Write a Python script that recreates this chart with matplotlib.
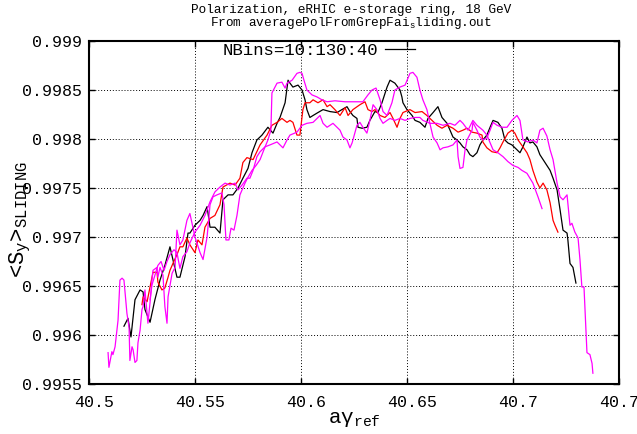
import matplotlib
matplotlib.use("Agg")
import matplotlib.pyplot as plt
from matplotlib.transforms import ScaledTranslation

plt.rcParams["font.family"] = ["Liberation Mono", "DejaVu Sans Mono"]
plt.rcParams["mathtext.fontset"] = "custom"
plt.rcParams["mathtext.rm"] = "Liberation Mono"
plt.rcParams["mathtext.it"] = "Liberation Mono:italic"
plt.rcParams["mathtext.bf"] = "Liberation Mono:bold"

# --- data ---
black_x = [40.5165, 40.5184, 40.5198, 40.5217, 40.5241, 40.5255, 40.5264, 40.5288, 40.5311, 40.5335,
           40.5358, 40.5382, 40.5415, 40.5429, 40.5453, 40.5467, 40.5476, 40.5500, 40.5524, 40.5538,
           40.5557, 40.5571, 40.5594, 40.5618, 40.5632, 40.5656, 40.5679, 40.5703, 40.5726, 40.5750,
           40.5769, 40.5792, 40.5816, 40.5844, 40.5868, 40.5887, 40.5901, 40.5925, 40.5939, 40.5948,
           40.5962, 40.5986, 40.6005, 40.6019, 40.6028, 40.6042, 40.6057, 40.6080, 40.6104, 40.6137,
           40.6170, 40.6193, 40.6217, 40.6231, 40.6245, 40.6264, 40.6269, 40.6288, 40.6311, 40.6325,
           40.6349, 40.6363, 40.6382, 40.6406, 40.6420, 40.6443, 40.6467, 40.6476, 40.6481, 40.6500,
           40.6524, 40.6538, 40.6561, 40.6585, 40.6599, 40.6623, 40.6646, 40.6665, 40.6689, 40.6703,
           40.6717, 40.6736, 40.6750, 40.6764, 40.6783, 40.6797, 40.6811, 40.6830, 40.6844, 40.6858,
           40.6877, 40.6892, 40.6906, 40.6929, 40.6948, 40.6962, 40.6976, 40.6995, 40.7019, 40.7033,
           40.7047, 40.7066, 40.7080, 40.7094, 40.7113, 40.7127, 40.7142, 40.7160, 40.7175, 40.7189,
           40.7208, 40.7222, 40.7236, 40.7255, 40.7259, 40.7269, 40.7283, 40.7297]
black_y = [0.99609, 0.99617, 0.99598, 0.99636, 0.99646, 0.99644, 0.99626, 0.99613, 0.99636, 0.99656,
           0.99671, 0.99690, 0.99659, 0.99659, 0.99680, 0.99704, 0.99704, 0.99712, 0.99717, 0.99722,
           0.99731, 0.99710, 0.99710, 0.99704, 0.99738, 0.99743, 0.99743, 0.99750, 0.99760, 0.99770,
           0.99786, 0.99799, 0.99804, 0.99812, 0.99806, 0.99816, 0.99822, 0.99837, 0.99860, 0.99857,
           0.99853, 0.99855, 0.99850, 0.99840, 0.99830, 0.99822, 0.99824, 0.99827, 0.99830, 0.99828,
           0.99827, 0.99830, 0.99833, 0.99828, 0.99824, 0.99821, 0.99812, 0.99811, 0.99812, 0.99819,
           0.99828, 0.99827, 0.99837, 0.99853, 0.99860, 0.99857, 0.99850, 0.99843, 0.99837, 0.99830,
           0.99824, 0.99819, 0.99817, 0.99812, 0.99821, 0.99827, 0.99833, 0.99822, 0.99816, 0.99809,
           0.99802, 0.99799, 0.99796, 0.99792, 0.99789, 0.99784, 0.99782, 0.99786, 0.99794, 0.99799,
           0.99804, 0.99812, 0.99819, 0.99817, 0.99811, 0.99799, 0.99796, 0.99794, 0.99789, 0.99786,
           0.99792, 0.99802, 0.99796, 0.99797, 0.99792, 0.99784, 0.99779, 0.99773, 0.99768, 0.99760,
           0.99748, 0.99728, 0.99707, 0.99704, 0.99697, 0.99673, 0.99669, 0.99653]

red_x = [40.5250, 40.5255, 40.5274, 40.5288, 40.5302, 40.5321, 40.5325, 40.5344, 40.5358, 40.5373,
         40.5382, 40.5396, 40.5415, 40.5429, 40.5443, 40.5462, 40.5476, 40.5500, 40.5514, 40.5533,
         40.5547, 40.5571, 40.5594, 40.5618, 40.5632, 40.5665, 40.5689, 40.5712, 40.5726, 40.5745,
         40.5774, 40.5807, 40.5840, 40.5863, 40.5887, 40.5910, 40.5934, 40.5948, 40.5962, 40.5981,
         40.5995, 40.6009, 40.6019, 40.6042, 40.6057, 40.6080, 40.6104, 40.6123, 40.6137, 40.6160,
         40.6184, 40.6208, 40.6222, 40.6245, 40.6278, 40.6302, 40.6316, 40.6335, 40.6349, 40.6373,
         40.6396, 40.6420, 40.6434, 40.6453, 40.6467, 40.6481, 40.6514, 40.6538, 40.6571, 40.6594,
         40.6618, 40.6642, 40.6665, 40.6689, 40.6717, 40.6741, 40.6764, 40.6783, 40.6807, 40.6830,
         40.6854, 40.6858, 40.6877, 40.6901, 40.6925, 40.6939, 40.6953, 40.6976, 40.6995, 40.7009,
         40.7024, 40.7047, 40.7066, 40.7080, 40.7094, 40.7113, 40.7127, 40.7142, 40.7160, 40.7175,
         40.7189, 40.7198, 40.7212]
red_y = [0.99631, 0.99639, 0.99634, 0.99649, 0.99664, 0.99664, 0.99654, 0.99646, 0.99648, 0.99659,
         0.99666, 0.99673, 0.99682, 0.99690, 0.99690, 0.99699, 0.99692, 0.99684, 0.99697, 0.99692,
         0.99710, 0.99719, 0.99722, 0.99733, 0.99751, 0.99755, 0.99753, 0.99760, 0.99776, 0.99781,
         0.99779, 0.99794, 0.99804, 0.99814, 0.99817, 0.99821, 0.99817, 0.99819, 0.99817, 0.99804,
         0.99804, 0.99830, 0.99837, 0.99837, 0.99840, 0.99837, 0.99840, 0.99833, 0.99835, 0.99830,
         0.99824, 0.99832, 0.99824, 0.99830, 0.99835, 0.99838, 0.99830, 0.99828, 0.99830, 0.99824,
         0.99822, 0.99827, 0.99821, 0.99812, 0.99821, 0.99827, 0.99830, 0.99827, 0.99828, 0.99824,
         0.99819, 0.99814, 0.99811, 0.99814, 0.99811, 0.99807, 0.99809, 0.99811, 0.99807, 0.99806,
         0.99804, 0.99797, 0.99791, 0.99787, 0.99786, 0.99791, 0.99797, 0.99806, 0.99809, 0.99806,
         0.99799, 0.99792, 0.99786, 0.99779, 0.99768, 0.99756, 0.99750, 0.99755, 0.99748, 0.99735,
         0.99717, 0.99712, 0.99705]

mag1_x = [40.5090, 40.5094, 40.5108, 40.5113, 40.5123, 40.5137, 40.5146, 40.5156, 40.5165, 40.5170,
          40.5179, 40.5189, 40.5193, 40.5203, 40.5208, 40.5217, 40.5226, 40.5231, 40.5241, 40.5250,
          40.5255, 40.5264, 40.5274, 40.5278, 40.5288, 40.5297, 40.5302, 40.5321, 40.5325, 40.5335,
          40.5349, 40.5358, 40.5368, 40.5373, 40.5392, 40.5406, 40.5415, 40.5429, 40.5443, 40.5462,
          40.5476, 40.5486, 40.5500, 40.5524, 40.5538, 40.5557, 40.5571, 40.5585, 40.5604, 40.5627,
          40.5637, 40.5646, 40.5660, 40.5670, 40.5684, 40.5698, 40.5712, 40.5736, 40.5750, 40.5769,
          40.5788, 40.5807, 40.5825, 40.5844, 40.5858, 40.5863, 40.5887, 40.5910, 40.5925, 40.5934,
          40.5958, 40.5981, 40.5995, 40.6005, 40.6014, 40.6028, 40.6052, 40.6075, 40.6099, 40.6123,
          40.6160, 40.6208, 40.6255, 40.6292, 40.6316, 40.6335, 40.6354, 40.6373, 40.6387, 40.6406,
          40.6429, 40.6443, 40.6467, 40.6491, 40.6514, 40.6528, 40.6547, 40.6561, 40.6575, 40.6594,
          40.6608, 40.6623, 40.6642, 40.6656, 40.6670, 40.6693, 40.6717, 40.6736, 40.6741, 40.6750,
          40.6764, 40.6774, 40.6783, 40.6807, 40.6811, 40.6830, 40.6844, 40.6858, 40.6877, 40.6892,
          40.6906, 40.6925, 40.6948, 40.6972, 40.6995, 40.7019, 40.7033, 40.7047, 40.7071, 40.7094,
          40.7113, 40.7127, 40.7142, 40.7160, 40.7175, 40.7189, 40.7208, 40.7222, 40.7236, 40.7255,
          40.7269, 40.7278, 40.7292, 40.7307, 40.7316, 40.7325, 40.7335, 40.7349, 40.7363, 40.7373,
          40.7377]
mag1_y = [0.99582, 0.99567, 0.99583, 0.99580, 0.99588, 0.99615, 0.99656, 0.99658, 0.99656, 0.99644,
          0.99622, 0.99608, 0.99574, 0.99588, 0.99585, 0.99572, 0.99574, 0.99592, 0.99605, 0.99626,
          0.99629, 0.99646, 0.99622, 0.99612, 0.99633, 0.99656, 0.99666, 0.99669, 0.99659, 0.99669,
          0.99661, 0.99629, 0.99612, 0.99639, 0.99663, 0.99669, 0.99707, 0.99692, 0.99697, 0.99717,
          0.99724, 0.99714, 0.99700, 0.99684, 0.99677, 0.99700, 0.99733, 0.99741, 0.99743, 0.99745,
          0.99733, 0.99697, 0.99697, 0.99709, 0.99707, 0.99722, 0.99743, 0.99755, 0.99761, 0.99768,
          0.99773, 0.99779, 0.99789, 0.99799, 0.99809, 0.99847, 0.99857, 0.99858, 0.99852, 0.99857,
          0.99860, 0.99867, 0.99868, 0.99867, 0.99860, 0.99850, 0.99845, 0.99843, 0.99840, 0.99838,
          0.99839, 0.99838, 0.99838, 0.99838, 0.99845, 0.99850, 0.99852, 0.99840, 0.99828, 0.99824,
          0.99837, 0.99850, 0.99853, 0.99855, 0.99867, 0.99868, 0.99863, 0.99850, 0.99840, 0.99830,
          0.99816, 0.99802, 0.99796, 0.99789, 0.99791, 0.99792, 0.99794, 0.99799, 0.99782, 0.99770,
          0.99771, 0.99789, 0.99799, 0.99809, 0.99817, 0.99809, 0.99802, 0.99799, 0.99801, 0.99809,
          0.99817, 0.99814, 0.99812, 0.99812, 0.99819, 0.99824, 0.99819, 0.99799, 0.99797, 0.99799,
          0.99796, 0.99809, 0.99811, 0.99803, 0.99789, 0.99779, 0.99755, 0.99741, 0.99738, 0.99743,
          0.99712, 0.99714, 0.99705, 0.99699, 0.99677, 0.99649, 0.99649, 0.99582, 0.99580, 0.99571,
          0.99561]

mag2_x = [40.5288, 40.5297, 40.5311, 40.5325, 40.5340, 40.5354, 40.5368, 40.5382, 40.5401, 40.5415,
          40.5429, 40.5443, 40.5462, 40.5476, 40.5500, 40.5524, 40.5547, 40.5571, 40.5594, 40.5618,
          40.5642, 40.5665, 40.5689, 40.5703, 40.5722, 40.5745, 40.5759, 40.5774, 40.5792, 40.5807,
          40.5830, 40.5854, 40.5887, 40.5915, 40.5934, 40.5948, 40.5981, 40.6005, 40.6028, 40.6057,
          40.6090, 40.6104, 40.6123, 40.6151, 40.6184, 40.6198, 40.6217, 40.6231, 40.6241, 40.6245,
          40.6264, 40.6278, 40.6292, 40.6311, 40.6325, 40.6340, 40.6358, 40.6373, 40.6387, 40.6406,
          40.6420, 40.6443, 40.6467, 40.6491, 40.6514, 40.6538, 40.6561, 40.6575, 40.6608, 40.6642,
          40.6670, 40.6703, 40.6726, 40.6750, 40.6764, 40.6788, 40.6811, 40.6830, 40.6858, 40.6877,
          40.6906, 40.6929, 40.6953, 40.6976, 40.7000, 40.7024, 40.7042, 40.7066, 40.7094, 40.7118,
          40.7137]
mag2_y = [0.99636, 0.99651, 0.99661, 0.99671, 0.99675, 0.99666, 0.99675, 0.99682, 0.99687, 0.99684,
          0.99668, 0.99680, 0.99685, 0.99694, 0.99705, 0.99712, 0.99722, 0.99736, 0.99746, 0.99751,
          0.99755, 0.99753, 0.99755, 0.99748, 0.99753, 0.99760, 0.99760, 0.99768, 0.99782, 0.99787,
          0.99792, 0.99794, 0.99797, 0.99791, 0.99799, 0.99804, 0.99807, 0.99814, 0.99816, 0.99817,
          0.99824, 0.99816, 0.99812, 0.99816, 0.99809, 0.99802, 0.99799, 0.99791, 0.99796, 0.99799,
          0.99814, 0.99817, 0.99812, 0.99806, 0.99819, 0.99835, 0.99830, 0.99821, 0.99816, 0.99819,
          0.99821, 0.99819, 0.99821, 0.99819, 0.99821, 0.99822, 0.99822, 0.99819, 0.99816, 0.99816,
          0.99814, 0.99816, 0.99814, 0.99819, 0.99816, 0.99809, 0.99819, 0.99814, 0.99809, 0.99804,
          0.99789, 0.99786, 0.99782, 0.99777, 0.99773, 0.99771, 0.99768, 0.99765, 0.99755, 0.99741,
          0.99729]

x_ticks = [40.5, 40.55, 40.6, 40.65, 40.7, 40.75]
x_tick_labels = ["40.5", "40.55", "40.6", "40.65", "40.7", "40.75"]
y_ticks = [0.9955, 0.996, 0.9965, 0.997, 0.9975, 0.998, 0.9985, 0.999]
y_tick_labels = ["0.9955", "0.996", "0.9965", "0.997", "0.9975", "0.998", "0.9985", "0.999"]

fig = plt.figure(figsize=(6.37, 4.34), dpi=100)
ax = fig.add_axes([0.1397, 0.1152, 0.8320, 0.7903])

ax.plot(black_x, black_y, color="black", lw=0.9, label="NBins=10:130:40")
ax.plot(red_x, red_y, color="#ff0000", lw=0.9)
ax.plot(mag1_x, mag1_y, color="#ff00ff", lw=0.9)
ax.plot(mag2_x, mag2_y, color="#ff00ff", lw=0.9)

ax.set_xlim(40.5, 40.75)
ax.set_ylim(0.9955, 0.999)
ax.set_xticks(x_ticks, x_tick_labels)
ax.set_yticks(y_ticks, y_tick_labels)
ax.grid(True, color="black", linestyle=(0, (1, 2)), linewidth=0.7)
ax.set_axisbelow(True)
ax.tick_params(direction="in", length=4, width=1, top=True, right=True,
               labelsize=12, pad=5)
ax.tick_params(axis="x", pad=8)
for spine in ax.spines.values():
    spine.set_linewidth(1.5)

# gnuplot puts the x labels a little to the right of the tick
shift = ScaledTranslation(5 / 100, 0, fig.dpi_scale_trans)
for lab in ax.get_xticklabels():
    lab.set_transform(lab.get_transform() + shift)

ax.set_xlabel("a\u03b3$_{\\mathrm{ref}}$", fontsize=15)
ax.xaxis.set_label_coords(0.5, -0.075)
ax.set_ylabel("<S$_{\\mathrm{y}}$>$_{\\mathrm{SLIDING}}$", fontsize=16)
ax.yaxis.set_label_coords(-0.105, 0.48)

ax.legend(loc="center right", bbox_to_anchor=(0.615, 0.972), frameon=False,
          markerfirst=False, fontsize=12.5, handlelength=1.75, handletextpad=0.35,
          borderpad=0, borderaxespad=0)

fig.text(0.551, 1 - 10 / 434, "Polarization, eRHIC e-storage ring, 18 GeV",
         ha="center", va="center", fontsize=9.2)
fig.text(0.551, 1 - 23 / 434, "From averagePolFromGrepFai$_{\\mathrm{s}}$liding.out",
         ha="center", va="center", fontsize=9.2)

fig.savefig("out.png", dpi=100)
